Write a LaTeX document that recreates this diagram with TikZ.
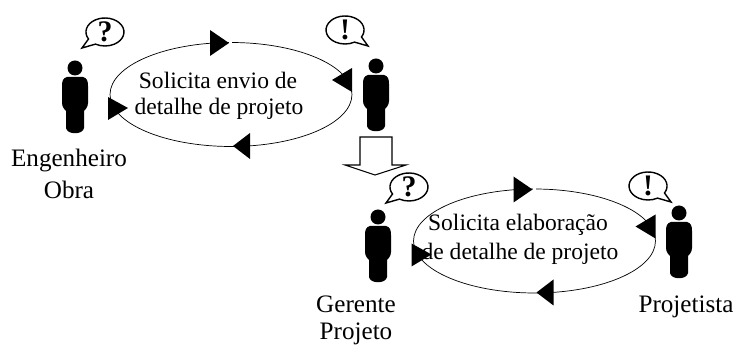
\documentclass[tikz,border=0pt]{standalone}
\usepackage{fontspec}
\setmainfont{Liberation Serif}
\usetikzlibrary{shapes.geometric}
\tikzset{
    loopline/.style={draw, ellipse, minimum width=4.84cm, minimum height=2.08cm, inner sep=0pt},
    loopmark/.style={fill=black},
    bubble/.style={draw, fill=white, line width=0.8pt},
    bubblemark/.style={font=\fontsize{17}{17}\selectfont\bfseries},
    talk/.style={font=\fontsize{13.4}{13.4}\selectfont},
    role/.style={font=\fontsize{14.3}{14.3}\selectfont},
}
\begin{document}
\begin{tikzpicture}[x=0.02cm,y=-0.02cm]
\useasboundingbox (0,0) rectangle (734,347);
\foreach \Dx/\Dy/\Name in {0/0/envio,303.5/146.5/elab}{
    \begin{scope}[shift={(\Dx,\Dy)}]
    \node[loopline] (loop\Name) at (231,94.5) {};
    \fill[white] (229,39) rectangle (232,47);
    \fill[loopmark] (210,30)--(229,43)--(210,56)--cycle;
    \fill[loopmark] (352,68)--(332,80)--(352,92)--cycle;
    \fill[loopmark] (250,133)--(233,146)--(250,159)--cycle;
    \fill[loopmark] (108,97)--(128,108)--(108,120)--cycle;
    \end{scope}
}
\foreach \Px/\Py in {75/68,376/66,378/217,679/213}{
    \begin{scope}[shift={(\Px,\Py)}]
    \fill (0,0) circle[radius=7.5];
    \fill (-8,9) -- (8,9)
        .. controls (12,10) and (13,13) .. (13,18)
        -- (13,35) .. controls (13,39) and (10,42) .. (9,43)
        -- (9,60) .. controls (8,67) and (-8,67) .. (-9,60)
        -- (-9,43) .. controls (-10,42) and (-13,39) .. (-13,35)
        -- (-13,18) .. controls (-13,13) and (-12,10) .. (-8,9) -- cycle;
    \end{scope}
}
% seta entre os dois ciclos
\draw[fill=white,line width=0.6pt] (360,137)--(360,165)--(345,165)--(375,175)--(406,165)--(392,165)--(392,137)--cycle;
\foreach \Cx/\Cy/\Side/\Mark/\Name in {105/32/1/?/a,345/30/-1/!/b,409/187/1/?/c,648/186/-1/!/d}{
    \begin{scope}[shift={(\Cx,\Cy)},xscale=\Side]
    \draw[bubble] (-16.5,7) arc[start angle=150,end angle=480,x radius=19,y radius=14]
        --(-23,16)--cycle;
    \node[bubblemark] (mark\Name) at (0,0) {\Mark};
    \end{scope}
}
\node[talk] (envioa) at (218,80) {Solicita envio de};
\node[talk] (enviob) at (219,109) {detalhe de projeto};
\node[talk] (elaba) at (518,225) {Solicita elaboração};
\node[talk] (elabb) at (520,254) {de detalhe de projeto};
\node[role] (engenheiro) at (69,160) {Engenheiro};
\node[role] (obra) at (69,190) {Obra};
\node[role] (gerente) at (356,304) {Gerente};
\node[role] (projeto) at (356,334) {Projeto};
\node[role] (projetista) at (686,307) {Projetista};
\end{tikzpicture}
\end{document}
